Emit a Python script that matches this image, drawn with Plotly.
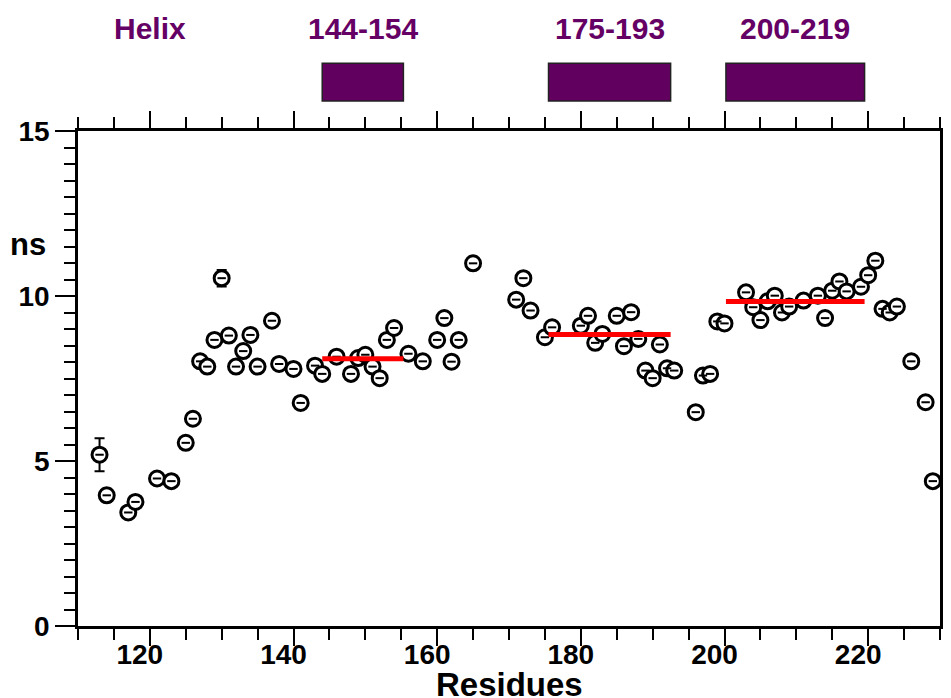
import plotly.graph_objects as go

# ---- data ----
residues = [113, 114, 117, 118, 121, 123, 125, 126, 127, 128, 129, 130, 131, 132, 133, 134, 135,
            137, 138, 140, 141, 143, 144, 146, 148, 149, 150, 151, 152, 153, 154, 156, 158,
            160, 161, 162, 163, 165, 171, 172, 173, 175, 176, 180, 181, 182, 183, 185, 186,
            187, 188, 189, 190, 191, 192, 193, 196, 197, 198, 199, 200, 203, 204, 205, 206,
            207, 208, 209, 211, 213, 214, 215, 216, 217, 219, 220, 221, 222, 223, 224, 226,
            228, 229]
ns_values = [5.19, 3.96, 3.44, 3.76, 4.47, 4.39, 5.55, 6.28, 8.02, 7.86, 8.67, 10.54, 8.80, 7.86, 8.33, 8.82, 7.86,
             9.25, 7.94, 7.79, 6.76, 7.89, 7.64, 8.16, 7.64, 8.12, 8.22, 7.86, 7.51, 8.67, 9.03, 8.25, 8.02,
             8.67, 9.33, 8.01, 8.67, 10.99, 9.89, 10.54, 9.56, 8.75, 9.05, 9.10, 9.40, 8.58, 8.85, 9.40, 8.48,
             9.51, 8.70, 7.74, 7.51, 8.53, 7.81, 7.74, 6.48, 7.59, 7.64, 9.23, 9.17, 10.11, 9.66, 9.27, 9.84,
             10.01, 9.50, 9.68, 9.86, 10.01, 9.33, 10.16, 10.44, 10.14, 10.28, 10.63, 11.07, 9.61, 9.50, 9.68, 8.02,
             6.78, 4.39]
ns_errors = [0.5, 0.2, 0.05, 0.05, 0.05, 0.05, 0.05, 0.05, 0.05, 0.05, 0.05, 0.25, 0.05, 0.05, 0.05, 0.05, 0.05,
             0.05, 0.05, 0.05, 0.05, 0.05, 0.05, 0.05, 0.05, 0.05, 0.05, 0.05, 0.05, 0.05, 0.15, 0.05, 0.05,
             0.05, 0.05, 0.05, 0.05, 0.2, 0.05, 0.05, 0.05, 0.05, 0.1, 0.05, 0.15, 0.05, 0.05, 0.05, 0.05,
             0.1, 0.05, 0.05, 0.05, 0.05, 0.05, 0.05, 0.05, 0.05, 0.05, 0.05, 0.05, 0.05, 0.05, 0.05, 0.05,
             0.05, 0.05, 0.05, 0.05, 0.05, 0.05, 0.05, 0.1, 0.05, 0.05, 0.05, 0.2, 0.05, 0.05, 0.05, 0.05,
             0.05, 0.05]

helix_labels = ["144-154", "175-193", "200-219"]
helix_start = [144.0, 175.5, 200.2]
helix_end = [155.3, 192.5, 219.5]
helix_mean = [8.10, 8.83, 9.83]

x_ticks = [120, 140, 160, 180, 200, 220]
y_ticks = [0, 5, 10, 15]

PURPLE = "#650065"
FONT = "Liberation Sans, Arial, sans-serif"

fig = go.Figure()

# data points with error bars
fig.add_trace(go.Scatter(
    x=residues, y=ns_values, mode="markers",
    error_y=dict(type="data", array=ns_errors, visible=True, color="black",
                 thickness=2, width=5),
    marker=dict(symbol="circle", size=15, color="white",
                line=dict(color="black", width=3)),
    showlegend=False, hoverinfo="x+y"))
# small centre dash of each marker
fig.add_trace(go.Scatter(
    x=residues, y=ns_values, mode="markers",
    marker=dict(symbol="line-ew", size=6, color="black",
                line=dict(color="black", width=2)),
    showlegend=False, hoverinfo="skip"))

# helix mean lines
for s, e, m in zip(helix_start, helix_end, helix_mean):
    fig.add_trace(go.Scatter(x=[s, e], y=[m, m], mode="lines",
                             line=dict(color="#ff0000", width=5),
                             showlegend=False, hoverinfo="skip"))

shapes = []
annotations = []
for lab, s, e in zip(helix_labels, helix_start, helix_end):
    shapes.append(dict(type="rect", xref="x", yref="paper", x0=s, x1=e,
                       y0=1.0606, y1=1.137, fillcolor="#620060",
                       line=dict(color="#222222", width=1.5)))
    annotations.append(dict(text=lab, xref="x", yref="paper", x=(s + e) / 2, y=1.208,
                            showarrow=False, xanchor="center", yanchor="middle",
                            font=dict(family=FONT, size=30, color=PURPLE, weight="bold")))
annotations.append(dict(text="Helix", xref="x", yref="paper", x=120, y=1.208,
                        showarrow=False, xanchor="center", yanchor="middle",
                        font=dict(family=FONT, size=30, color=PURPLE, weight="bold")))
annotations.append(dict(text="ns", xref="paper", yref="paper", x=-0.058, y=0.77,
                        showarrow=False, xanchor="center", yanchor="middle",
                        font=dict(family=FONT, size=31, color="black", weight="bold")))
annotations.append(dict(text="Residues", xref="paper", yref="paper", x=0.5, y=-0.118,
                        showarrow=False, xanchor="center", yanchor="middle",
                        font=dict(family=FONT, size=33, color="black", weight="bold")))

# page body has an 8px margin, so the figure is sized and offset to compensate
fig.update_layout(
    width=943, height=690,
    margin=dict(l=70, r=11, t=123, b=72, autoexpand=False),
    paper_bgcolor="white", plot_bgcolor="white",
    shapes=shapes, annotations=annotations,
    xaxis=dict(range=[110, 230], tickmode="array", tickvals=x_ticks, automargin=False,
               ticks="outside", ticklen=17, tickwidth=2, tickcolor="black",
               showline=True, linewidth=2.5, linecolor="black", mirror="allticks",
               showgrid=False, zeroline=False, ticklabelshift=-10, ticklabelstandoff=-15,
               tickfont=dict(family=FONT, size=28, color="black", weight="bold"),
               minor=dict(dtick=5, tick0=110, ticks="outside", ticklen=11,
                          tickwidth=2, tickcolor="black", showgrid=False)),
    yaxis=dict(range=[0, 15], tickmode="array", tickvals=y_ticks, automargin=False,
               ticks="outside", ticklen=20, tickwidth=2, tickcolor="black",
               showline=True, linewidth=2.5, linecolor="black", mirror="allticks",
               showgrid=False, zeroline=False,
               tickfont=dict(family=FONT, size=28, color="black", weight="bold"),
               minor=dict(dtick=0.5, tick0=0, ticks="outside", ticklen=11,
                          tickwidth=2, tickcolor="black", showgrid=False)),
)

fig.write_html("out.html")
